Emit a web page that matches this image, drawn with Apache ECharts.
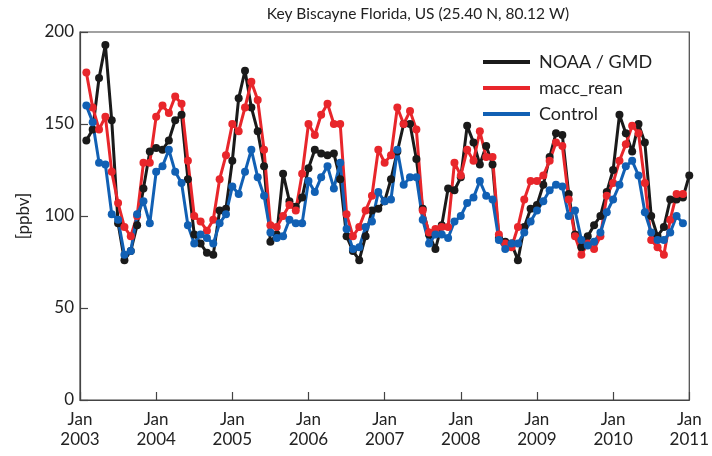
<!DOCTYPE html>
<html>
<head>
<meta charset="utf-8">
<script src="https://cdn.jsdelivr.net/npm/echarts@6/dist/echarts.min.js"></script>
<style>
  html, body { margin: 0; padding: 0; background: #fff; }
  #chart { width: 712px; height: 456px; }
</style>
</head>
<body>
<div id="chart"></div>
<script>
// Monthly surface ozone at Key Biscayne, first value is Feb 2003
const startYear = 2003;
const yearTicks = [2003, 2004, 2005, 2006, 2007, 2008, 2009, 2010, 2011];

const noaaGmd = [
  141, 147, 175, 193, 152, 96, 76, 81, 95, 115, 135, 137,
  136, 141, 152, 155, 120, 90, 85, 80, 79, 103, 104, 130,
  164, 179, 159, 146, 127, 86, 90, 123, 108, 105, 110, 126,
  136, 134, 133, 134, 120, 89, 81, 76, 89, 103, 104, 108,
  120, 135, 150, 150, 131, 104, 90, 82, 95, 115, 114, 121,
  149, 140, 128, 138, 128, 88, 86, 85, 76, 94, 104, 106,
  117, 132, 145, 144, 112, 90, 83, 89, 95, 100, 113, 125,
  155, 145, 135, 150, 140, 100, 89, 94, 109, 109, 110, 122
];

const maccRean = [
  178, 159, 147, 154, 124, 107, 94, 89, 100, 129, 129, 154,
  160, 156, 165, 161, 130, 100, 97, 92, 98, 120, 133, 150,
  146, 159, 173, 163, 136, 95, 94, 100, 106, 103, 123, 150,
  144, 155, 161, 150, 150, 101, 89, 94, 103, 111, 136, 129,
  133, 159, 150, 157, 147, 103, 91, 93, 94, 94, 129, 122,
  136, 130, 146, 132, 132, 90, 85, 83, 94, 109, 119, 119,
  122, 130, 140, 138, 109, 89, 79, 85, 82, 89, 111, 118,
  130, 139, 149, 145, 118, 87, 83, 79, 98, 112, 112
];

const control = [
  160, 151, 129, 128, 101, 98, 79, 81, 101, 108, 96, 124,
  127, 136, 124, 118, 95, 85, 90, 88, 85, 96, 101, 116,
  112, 124, 136, 121, 111, 91, 88, 89, 98, 96, 96, 119,
  113, 121, 127, 115, 129, 93, 82, 83, 94, 97, 113, 108,
  109, 136, 117, 121, 121, 98, 85, 90, 90, 88, 97, 100,
  107, 110, 119, 111, 109, 87, 82, 85, 85, 91, 97, 103,
  108, 114, 117, 116, 100, 103, 87, 84, 86, 91, 102, 109,
  117, 127, 130, 122, 102, 91, 87, 87, 91, 100, 96
];

// pair each value with its decimal-year position (year + month/12)
function toSeries(values) {
  return values.map((v, i) => [startYear + (i + 1) / 12, v]);
}

const FONT = 'Lato, "Open Sans", sans-serif';

function lineSeries(name, values, color) {
  return {
    name: name,
    type: 'line',
    data: toSeries(values),
    symbol: 'circle',
    symbolSize: 8,
    showSymbol: true,
    itemStyle: { color: color },
    lineStyle: { color: color, width: 3 },
    animation: false
  };
}

const chart = echarts.init(document.getElementById('chart'), null, { renderer: 'canvas' });
chart.setOption({
  backgroundColor: '#ffffff',
  animation: false,
  graphic: [{
    type: 'text',
    x: 418,
    y: 6,
    style: {
      text: 'Key Biscayne Florida, US (25.40 N, 80.12 W)',
      align: 'center',
      verticalAlign: 'top',
      font: '15.5px Lato, "Open Sans", sans-serif',
      fill: '#222'
    }
  }],
  grid: {
    left: 80, right: 20, top: 32, bottom: 56,
    show: true, borderColor: '#444', borderWidth: 1.2, backgroundColor: 'transparent'
  },
  legend: {
    left: 478,
    top: 48,
    orient: 'vertical',
    itemGap: 8,
    itemWidth: 47,
    itemHeight: 4,
    icon: 'rect',
    textStyle: { fontFamily: FONT, fontSize: 18, color: '#222', padding: [0, 0, 0, 4] },
    data: ['NOAA / GMD', 'macc_rean', 'Control']
  },
  xAxis: {
    type: 'value',
    min: yearTicks[0],
    max: yearTicks[yearTicks.length - 1],
    interval: 1,
    axisLine: { lineStyle: { color: '#444', width: 1.2 } },
    axisTick: { inside: true, length: 8, lineStyle: { color: '#444', width: 1.2 } },
    splitLine: { show: false },
    axisLabel: {
      margin: 10,
      fontFamily: FONT, fontSize: 17, color: '#222', lineHeight: 20,
      formatter: v => 'Jan\n' + v
    }
  },
  yAxis: {
    type: 'value',
    min: 0, max: 200, interval: 50,
    name: '[ppbv]',
    nameLocation: 'middle',
    nameGap: 48,
    nameRotate: 90,
    nameTextStyle: { fontFamily: FONT, fontSize: 17, color: '#222' },
    axisLine: { show: true, lineStyle: { color: '#444', width: 1.2 } },
    axisTick: { inside: true, length: 8, lineStyle: { color: '#444', width: 1.2 } },
    splitLine: { show: false },
    axisLabel: { margin: 6, fontFamily: FONT, fontSize: 17, color: '#222' }
  },
  series: [
    lineSeries('NOAA / GMD', noaaGmd, '#1a1a1a'),
    lineSeries('macc_rean', maccRean, '#e8262b'),
    lineSeries('Control', control, '#1160b4')
  ]
});
</script>
</body>
</html>
